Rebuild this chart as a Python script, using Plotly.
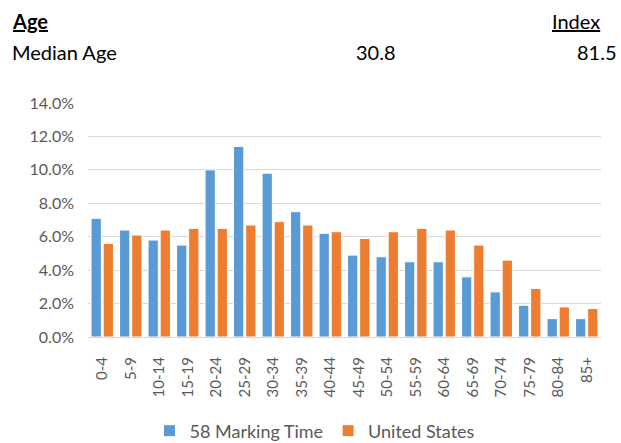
import plotly.graph_objects as go

# Age distribution: share of population in each age band (%)
age_bands = ["0-4", "5-9", "10-14", "15-19", "20-24", "25-29", "30-34", "35-39",
             "40-44", "45-49", "50-54", "55-59", "60-64", "65-69", "70-74",
             "75-79", "80-84", "85+"]
marking_time = [7.1, 6.4, 5.8, 5.5, 10.0, 11.4, 9.8, 7.5, 6.2, 4.9, 4.8, 4.5,
                4.5, 3.6, 2.7, 1.9, 1.1, 1.1]
united_states = [5.6, 6.1, 6.4, 6.5, 6.5, 6.7, 6.9, 6.7, 6.3, 5.9, 6.3, 6.5,
                 6.4, 5.5, 4.6, 2.9, 1.8, 1.7]

series_names = ["58 Marking Time", "United States"]
median_age = "30.8"
median_index = "81.5"

BLUE = "#5B9BD5"
ORANGE = "#ED7D31"
GREY = "#595959"
FONT = "Lato, 'Open Sans', sans-serif"

fig = go.Figure()
fig.add_trace(go.Bar(x=age_bands, y=marking_time, name=series_names[0],
                     marker=dict(color=BLUE, line=dict(color="white", width=1))))
fig.add_trace(go.Bar(x=age_bands, y=united_states, name=series_names[1],
                     marker=dict(color=ORANGE, line=dict(color="white", width=1))))

# plot area geometry in pixels, used to place the header text
W, H = 621, 443
L, R, T, B = 88, 20, 103, 106
pw, ph = W - L - R, H - T - B


def px(x):
    return (x - L) / pw


def py(y):
    return (H - B - y) / ph


annotations = [
    dict(text="<b><u>Age</u></b>", x=px(10), y=py(21), xanchor="left"),
    dict(text="<u>Index</u>", x=px(602), y=py(21), xanchor="right"),
    dict(text="Median Age", x=px(10), y=py(52), xanchor="left"),
    dict(text=median_age, x=px(376), y=py(52), xanchor="center"),
    dict(text=median_index, x=px(619), y=py(52), xanchor="right"),
]
for a in annotations:
    a.update(xref="paper", yref="paper", yanchor="middle", showarrow=False,
             font=dict(family=FONT, size=20, color="black"))

fig.update_layout(
    width=W, height=H,
    margin=dict(l=L, r=R, t=T, b=B, autoexpand=False),
    paper_bgcolor="white", plot_bgcolor="white",
    barmode="group", bargap=0.15, bargroupgap=0.15,
    font=dict(family=FONT, color=GREY),
    annotations=annotations,
    legend=dict(orientation="h", xref="container", yref="container",
                x=315 / W, xanchor="center", y=1 - 431 / H, yanchor="middle",
                font=dict(size=18, color=GREY), itemwidth=30, tracegroupgap=0),
)
fig.update_yaxes(range=[0, 14], dtick=2, tickformat=".1f", ticksuffix="%",
                 showgrid=True, gridcolor="#D9D9D9", gridwidth=1,
                 zeroline=False, showline=False, automargin=False,
                 tickfont=dict(size=16, color=GREY), ticklabelstandoff=13)
fig.update_xaxes(tickangle=-90, showline=True, linecolor="#D9D9D9",
                 linewidth=1, ticks="", automargin=False,
                 tickfont=dict(size=15, color=GREY), ticklabelstandoff=13)

fig.write_html("out.html")
